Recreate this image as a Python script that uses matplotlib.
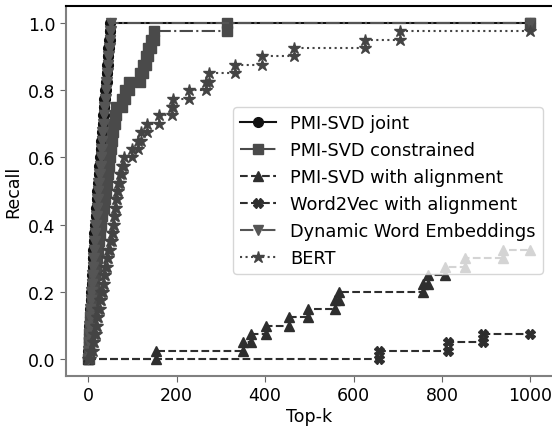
import matplotlib
matplotlib.use("Agg")
import matplotlib.pyplot as plt

N_QUERIES = 40
K_MAX = 1000

series_labels = ["PMI-SVD joint", "PMI-SVD constrained", "PMI-SVD with alignment",
                 "Word2Vec with alignment", "Dynamic Word Embeddings", "BERT"]

# rank (top-k) at which each correct answer is retrieved
joint_hits = [0, 1, 2, 3, 4, 5, 6, 7, 8, 9, 10, 11, 12, 13, 14, 15, 17, 18, 19, 21,
              22, 24, 25, 27, 28, 30, 31, 33, 34, 36, 37, 39, 40, 42, 43, 45, 46, 48, 49, 50]
constrained_hits = [1, 2, 3, 4, 5, 7, 8, 10, 11, 13, 15, 17, 19,
                    22, 24, 27, 29, 32, 35, 38,
                    40, 42, 44, 47, 49, 52, 54, 57,
                    61, 64, 76, 84, 93,
                    118, 124, 130, 136, 142, 148, 315]
alignment_hits = [154, 349, 369, 403, 455, 498, 557, 568, 757, 768, 806, 852, 938]
word2vec_hits = [657, 814, 892]
dynamic_hits = [0, 1, 2, 3, 4, 5, 6, 7, 8, 9, 11, 12, 13, 14, 15, 16, 18, 19, 20, 22,
                23, 25, 26, 28, 29, 31, 32, 34, 35, 37, 38, 40, 41, 43, 44, 46, 47, 49, 50, 51]
bert_hits = [5, 10, 14, 17, 20, 23, 26, 29, 33, 36, 39, 43, 46, 49, 53, 56, 59, 61, 63, 65,
             68, 72, 77, 82, 100, 113, 120, 132, 160, 189, 191, 228, 267, 274, 331, 394,
             466, 625, 704]

xticks = [0, 200, 400, 600, 800, 1000]
yticks = [0.0, 0.2, 0.4, 0.6, 0.8, 1.0]


def step_curve(hits):
    xs, ys = [0], [0.0]
    n = 0
    for k in hits:
        xs.append(k)
        ys.append(n / N_QUERIES)
        n += 1
        xs.append(k)
        ys.append(n / N_QUERIES)
    xs.append(K_MAX)
    ys.append(n / N_QUERIES)
    return xs, ys


all_hits = [joint_hits, constrained_hits, alignment_hits, word2vec_hits, dynamic_hits, bert_hits]
styles = [
    dict(color="#111111", marker="o", linestyle="-", markersize=7),
    dict(color="#4a4a4a", marker="s", linestyle="-.", markersize=7),
    dict(color="#2e2e2e", marker="^", linestyle="--", markersize=7),
    dict(color="#2e2e2e", marker="X", linestyle="--", markersize=7),
    dict(color="#555555", marker="v", linestyle="-.", markersize=7),
    dict(color="#444444", marker="*", linestyle=":", markersize=9),
]

fig = plt.figure(figsize=(5.52, 4.27), dpi=100)
ax = fig.add_axes([66 / 552, 1 - 377 / 427, 486.6 / 552, 370 / 427])

for hits, lab, st in zip(all_hits, series_labels, styles):
    xs, ys = step_curve(hits)
    ax.plot(xs, ys, label=lab, linewidth=1.5, **st)

ax.set_xlim(-50, 1050)
ax.set_ylim(-0.05, 1.05)
ax.set_xticks(xticks)
ax.set_yticks(yticks)
ax.tick_params(labelsize=12.5, color="0.4", length=4)
ax.set_xlabel("Top-k", fontsize=12.5, labelpad=2)
ax.set_ylabel("Recall", fontsize=12.5)

for side in ["left", "bottom"]:
    ax.spines[side].set_color("0.5")
    ax.spines[side].set_linewidth(1.5)
ax.spines["top"].set_color("black")
ax.spines["top"].set_linewidth(1.5)

ax.legend(loc="lower right", bbox_to_anchor=(0.98, 0.276), borderaxespad=0, fontsize=12.8)

fig.savefig("out.png", dpi=100)
